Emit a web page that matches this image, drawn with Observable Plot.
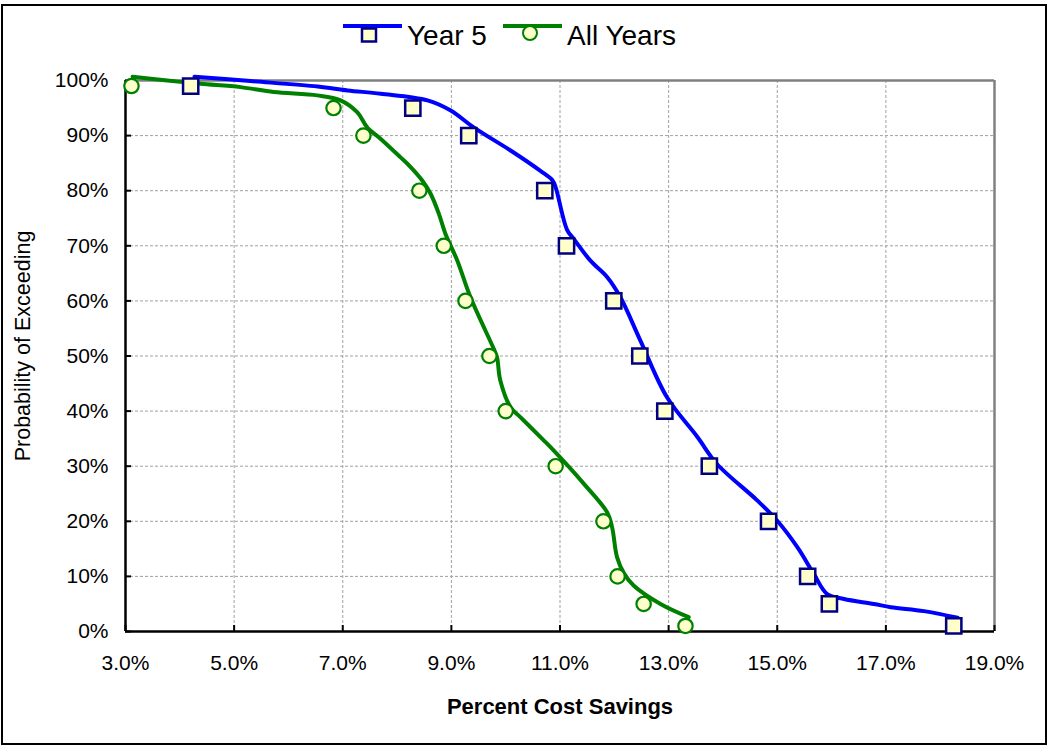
<!DOCTYPE html>
<html>
<head>
<meta charset="utf-8">
<script src="https://cdn.jsdelivr.net/npm/d3@7"></script>
<script src="https://cdn.jsdelivr.net/npm/@observablehq/plot@0.6"></script>
<style>
  html, body { margin: 0; padding: 0; background: #fff; }
  #chart { position: relative; width: 1048px; height: 747px; }
</style>
</head>
<body>
<div id="chart"></div>
<script>
// Exceedance curves of percent cost savings (smoothed line per series)
const year5LineSavings = [4.27, 5.30, 6.54, 7.09, 7.70, 8.56, 8.98, 9.41, 10.09, 10.64, 10.86, 10.92, 11.13, 11.25, 11.56, 11.87, 12.11, 12.48, 12.97, 13.53, 13.89, 14.63, 15.00, 15.37, 15.67, 15.92, 16.23, 16.78, 17.09, 17.70, 18.32];
const year5LineProb    = [100.7, 99.9, 98.9, 98.2, 97.6, 96.4, 94.6, 91.5, 87.3, 83.6, 81.9, 80.6, 72.9, 71.3, 67.3, 64.3, 60.7, 52.8, 42.5, 35.3, 30.4, 23.8, 20.1, 15.3, 10.5, 6.8, 5.9, 5.0, 4.4, 3.7, 2.5];

const allYearsLineSavings = [3.13, 3.77, 4.38, 5.12, 5.73, 6.53, 6.96, 7.27, 7.45, 7.70, 8.06, 8.25, 8.46, 8.62, 8.77, 8.89, 9.11, 9.35, 9.78, 9.84, 9.90, 10.09, 10.27, 10.70, 10.83, 11.44, 11.87, 11.96, 12.05, 12.18, 12.36, 12.85, 13.37];
const allYearsLineProb    = [100.7, 100.0, 99.4, 98.8, 97.9, 97.3, 96.4, 94.2, 91.5, 89.4, 86.1, 84.3, 81.9, 79.4, 75.8, 72.2, 67.3, 60.7, 51.3, 49.8, 45.6, 40.7, 38.9, 34.7, 33.4, 26.8, 21.6, 18.9, 13.5, 10.5, 8.3, 5.0, 2.6];

// Marker points at fixed exceedance probabilities
const markerProb = [99, 95, 90, 80, 70, 60, 50, 40, 30, 20, 10, 5, 1];
const year5MarkerSavings    = [4.20, 8.29, 9.32, 10.72, 11.12, 11.99, 12.47, 12.93, 13.75, 14.84, 15.56, 15.96, 18.25];
const allYearsMarkerSavings = [3.11, 6.83, 7.38, 8.41, 8.86, 9.26, 9.70, 10.00, 10.92, 11.80, 12.06, 12.54, 13.31];

const xTicks = [3, 5, 7, 9, 11, 13, 15, 17, 19];
const yTicks = [0, 10, 20, 30, 40, 50, 60, 70, 80, 90, 100];

const seriesNames = ["Year 5", "All Years"];
const lineColors = ["#0000ff", "#008000"];

const toPoints = (xs, ys) => xs.map((x, i) => ({x, y: ys[i]}));
const year5Line = toPoints(year5LineSavings, year5LineProb);
const allYearsLine = toPoints(allYearsLineSavings, allYearsLineProb);
const year5Markers = toPoints(year5MarkerSavings, markerProb);
const allYearsMarkers = toPoints(allYearsMarkerSavings, markerProb);

const font = "'Liberation Sans', Arial, sans-serif";

const plot = Plot.plot({
  width: 1048,
  height: 747,
  marginLeft: 125,
  marginRight: 54,
  marginTop: 80,
  marginBottom: 116,
  style: {fontFamily: font, fontSize: "21px", color: "#000", background: "#fff", overflow: "visible"},
  x: {domain: [3, 19], label: null},
  y: {domain: [0, 100], label: null},
  marks: [
    Plot.gridX(xTicks, {stroke: "#a0a0a0", strokeOpacity: 1, strokeDasharray: "3,2"}),
    Plot.gridY(yTicks, {stroke: "#a0a0a0", strokeOpacity: 1, strokeDasharray: "3,2"}),
    // plot-area border: gray top/right, black axes left/bottom
    Plot.ruleY([100], {stroke: "#808080", strokeWidth: 2.5}),
    Plot.ruleX([19], {stroke: "#808080", strokeWidth: 2.5}),
    Plot.ruleX([3], {stroke: "#000", strokeWidth: 2.5}),
    Plot.ruleY([0], {stroke: "#000", strokeWidth: 2.5}),
    // inward tick marks
    Plot.tickX(xTicks, {x: d => d, insetTop: 545, stroke: "#000", strokeWidth: 2}),
    Plot.tickY(yTicks, {y: d => d, insetRight: 863, stroke: "#000", strokeWidth: 2}),
    Plot.axisX(xTicks, {tickSize: 0, tickPadding: 24, tickFormat: d => d.toFixed(1) + "%", fontSize: 21}),
    Plot.axisY(yTicks, {tickSize: 0, tickPadding: 17, tickFormat: d => d + "%", fontSize: 21}),
    Plot.text(["Percent Cost Savings"], {frameAnchor: "bottom", dy: 82, fontWeight: "bold", fontSize: 22}),
    Plot.text(["Probability of Exceeding"], {frameAnchor: "left", textAnchor: "middle", dx: -102, dy: -10, rotate: -90, fontSize: 21.5}),
    // series lines
    Plot.line(year5Line, {x: "x", y: "y", stroke: lineColors[0], strokeWidth: 4, curve: "catmull-rom"}),
    Plot.line(allYearsLine, {x: "x", y: "y", stroke: lineColors[1], strokeWidth: 4, curve: "catmull-rom"}),
    // series markers
    Plot.dot(year5Markers, {x: "x", y: "y", symbol: "square", r: 8.6, fill: "#ffffcc", stroke: "#000080", strokeWidth: 2.5}),
    Plot.dot(allYearsMarkers, {x: "x", y: "y", symbol: "circle", r: 7.2, fill: "#ffffcc", stroke: "#008000", strokeWidth: 2.2})
  ]
});

document.getElementById("chart").appendChild(plot);

// outer chart border and legend
const svg = d3.select(plot);
svg.append("rect")
  .attr("x", 2).attr("y", 5).attr("width", 1044).attr("height", 739)
  .attr("fill", "none").attr("stroke", "#000").attr("stroke-width", 2);

const legend = svg.append("g")
  .attr("font-family", font)
  .attr("font-size", 28)
  .attr("text-anchor", "start");
const legendItems = [
  {name: seriesNames[0], color: lineColors[0], x0: 343, x1: 402, mx: 369, textX: 407, marker: "square"},
  {name: seriesNames[1], color: lineColors[1], x0: 503, x1: 562, mx: 530, textX: 567, marker: "circle"}
];
for (const item of legendItems) {
  legend.append("line")
    .attr("x1", item.x0).attr("x2", item.x1).attr("y1", 26).attr("y2", 26)
    .attr("stroke", item.color).attr("stroke-width", 4);
  if (item.marker === "square") {
    legend.append("rect")
      .attr("x", item.mx - 7).attr("y", 28.5).attr("width", 14).attr("height", 13)
      .attr("fill", "#ffffcc").attr("stroke", "#000080").attr("stroke-width", 2.5);
  } else {
    legend.append("circle")
      .attr("cx", item.mx).attr("cy", 33).attr("r", 7)
      .attr("fill", "#ffffcc").attr("stroke", "#008000").attr("stroke-width", 2);
  }
  legend.append("text")
    .attr("x", item.textX).attr("y", 45)
    .attr("fill", "#000")
    .attr("text-anchor", "start")
    .text(item.name);
}
</script>
</body>
</html>
